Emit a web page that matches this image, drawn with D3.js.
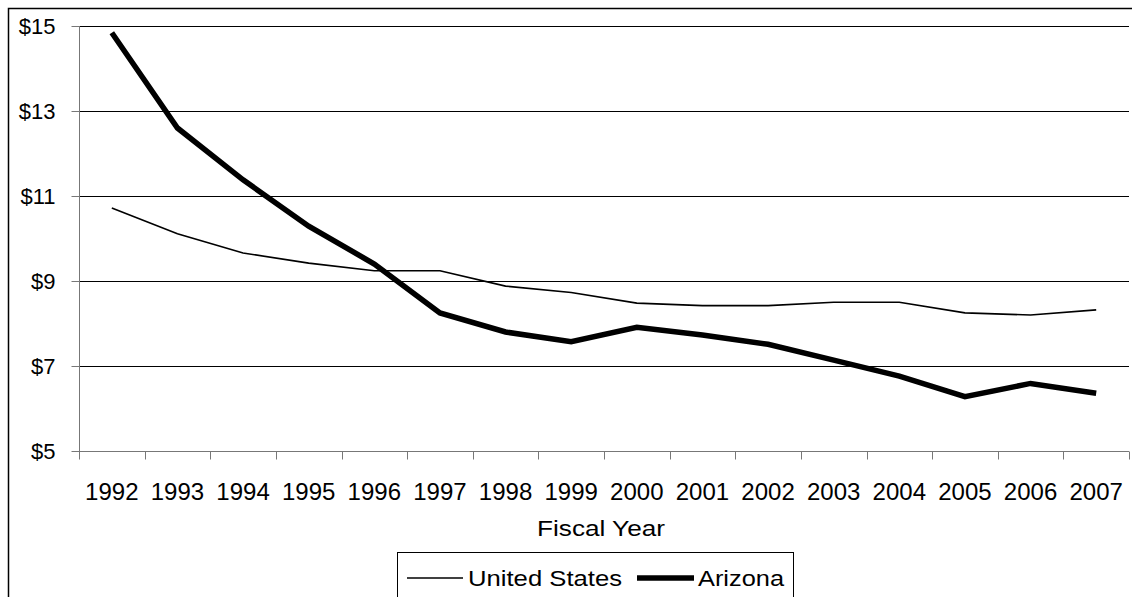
<!DOCTYPE html>
<html>
<head>
<meta charset="utf-8">
<script src="https://cdn.jsdelivr.net/npm/d3@7"></script>
<style>
  html, body { margin: 0; padding: 0; background: #fff; }
  svg { display: block; font-family: "Liberation Sans", Arial, sans-serif; }
</style>
</head>
<body>
<svg id="chart" width="1132" height="597"></svg>
<script>
// Fiscal years on the category axis
const years = ["1992","1993","1994","1995","1996","1997","1998","1999",
               "2000","2001","2002","2003","2004","2005","2006","2007"];
// Dollar values per year
const unitedStates = [10.72,10.11,9.66,9.42,9.24,9.24,8.88,8.73,8.48,8.42,8.42,8.5,8.5,8.25,8.2,8.32];
const arizona      = [14.84,12.6,11.38,10.29,9.4,8.25,7.8,7.57,7.91,7.73,7.51,7.14,6.76,6.28,6.59,6.36];
// Value axis ticks
const yTicks = [5,7,9,11,13,15];

const series = [
  { name: "United States", values: unitedStates, width: 1.6 },
  { name: "Arizona",       values: arizona,      width: 5.5 }
];

const svg = d3.select("#chart");
const W = 1132, H = 597;
const plot = { left: 79, right: 1129, top: 26, bottom: 451 };

// outer chart frame (runs off right and bottom edges)
svg.append("rect")
  .attr("x", 8.5).attr("y", 8.5)
  .attr("width", W + 20).attr("height", H + 20)
  .attr("fill", "none").attr("stroke", "#000").attr("stroke-width", 1.5);

const x = d3.scaleBand().domain(years).range([plot.left, plot.right]);
const y = d3.scaleLinear().domain([5, 15]).range([plot.bottom, plot.top]);

// horizontal gridlines
svg.append("g").selectAll("line")
  .data(yTicks.filter(t => t > 5))
  .join("line")
  .attr("x1", plot.left).attr("x2", plot.right)
  .attr("y1", d => Math.round(y(d)) + 0.5).attr("y2", d => Math.round(y(d)) + 0.5)
  .attr("stroke", "#000").attr("stroke-width", 1);

// y axis
const yAxis = svg.append("g")
  .attr("transform", `translate(${plot.left + 0.5},0)`)
  .call(d3.axisLeft(y).tickValues(yTicks).tickSize(8).tickPadding(16)
        .tickFormat(d => "$" + d));
yAxis.selectAll("line, path").attr("stroke", "#777");
yAxis.select(".domain").attr("d", `M0,${plot.top}V${plot.bottom}`);
yAxis.selectAll("text").attr("font-size", 22).attr("fill", "#000")
  .attr("font-family", "'Liberation Sans', Arial, sans-serif");

// x axis with ticks between categories
const xAxisG = svg.append("g")
  .attr("transform", `translate(0,${plot.bottom + 0.5})`);
xAxisG.append("line")
  .attr("x1", plot.left).attr("x2", plot.right)
  .attr("stroke", "#777");
const tickPos = years.map(d => x(d)).concat([x(years[years.length - 1]) + x.bandwidth()]);
xAxisG.selectAll("line.tick").data(tickPos).join("line")
  .attr("class", "tick")
  .attr("x1", d => Math.round(d) + 0.5).attr("x2", d => Math.round(d) + 0.5)
  .attr("y1", 0).attr("y2", 8)
  .attr("stroke", "#777");
xAxisG.selectAll("text").data(years).join("text")
  .attr("x", d => x(d) + x.bandwidth() / 2)
  .attr("y", 48)
  .attr("text-anchor", "middle")
  .attr("font-size", 24)
  .text(d => d);

// axis title
svg.append("text")
  .attr("x", 601)
  .attr("y", 536)
  .attr("text-anchor", "middle")
  .attr("font-size", 22)
  .attr("textLength", 128)
  .attr("lengthAdjust", "spacingAndGlyphs")
  .text("Fiscal Year");

// series lines
const line = d3.line()
  .x((d, i) => x(years[i]) + x.bandwidth() / 2)
  .y(d => y(d));

svg.append("g").selectAll("path")
  .data(series)
  .join("path")
  .attr("d", d => line(d.values))
  .attr("fill", "none")
  .attr("stroke", "#000")
  .attr("stroke-width", d => d.width)
  .attr("stroke-linejoin", "miter");

// legend
const legend = svg.append("g");
legend.append("rect")
  .attr("x", 397.5).attr("y", 552.5)
  .attr("width", 396).attr("height", 60)
  .attr("fill", "#fff").attr("stroke", "#000").attr("stroke-width", 1);
const legendItems = [
  { s: series[0], x0: 407, x1: 463, tx: 468, tw: 154 },
  { s: series[1], x0: 637, x1: 694, tx: 698, tw: 86 }
];
legendItems.forEach(it => {
  legend.append("line")
    .attr("x1", it.x0).attr("x2", it.x1)
    .attr("y1", 578).attr("y2", 578)
    .attr("stroke", "#000").attr("stroke-width", it.s.width);
  legend.append("text")
    .attr("x", it.tx).attr("y", 586)
    .attr("font-size", 22)
    .attr("textLength", it.tw)
    .attr("lengthAdjust", "spacingAndGlyphs")
    .text(it.s.name);
});
</script>
</body>
</html>
